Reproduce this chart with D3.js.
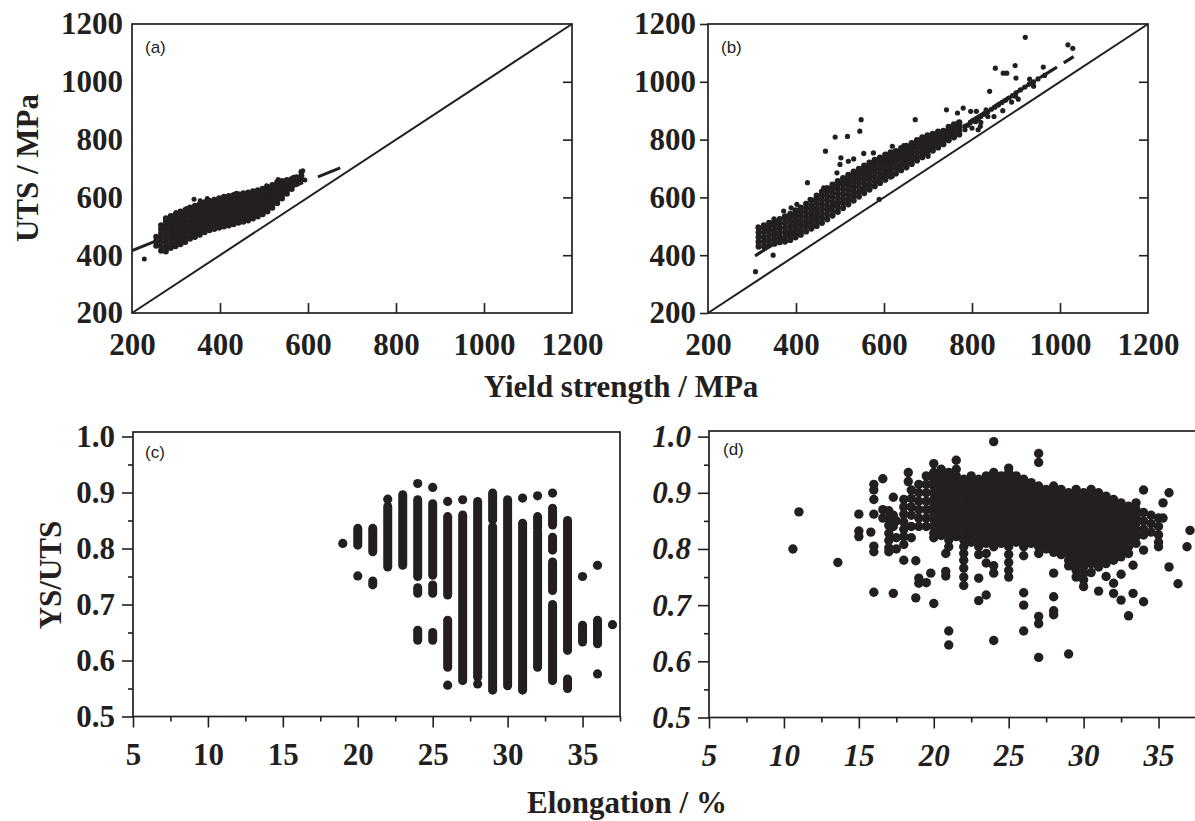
<!DOCTYPE html>
<html>
<head>
<meta charset="UTF-8">
<title>UTS vs yield strength, YS/UTS vs elongation</title>
<style>
  body { margin: 0; background: #fff; }
  svg { display: block; }
  .tick text { font-family: "Liberation Serif", "Times New Roman", serif; font-weight: bold; font-size: 31px; fill: #231f20; }
  .ital .tick text { font-style: italic; }
  .tick line { stroke: #231f20; stroke-width: 1.6; }
  .title { font-family: "Liberation Serif", "Times New Roman", serif; font-weight: bold; font-size: 31px; fill: #231f20; }
  .plabel { font-family: "Liberation Sans", Arial, sans-serif; font-size: 17px; fill: #231f20; }
</style>
<script src="https://cdn.jsdelivr.net/npm/d3@7"></script>
</head>
<body>
<script>
const ink = "#231f20";

// ---- (a) UTS vs YS, columns of points [ys, [uts...]] ----
const aCols = [
  [255, [433, 448, 464]],
  [266, [415, 430, 446, 461, 477, 491, 504]],
  [277, [413, 428, 444, 459, 473, 489, 503, 517, 528]],
  [288, [425, 439, 455, 469, 484, 498, 512, 526, 536]],
  [299, [431, 446, 460, 475, 489, 503, 517, 531, 542]],
  [310, [438, 452, 467, 481, 495, 510, 524, 538, 551]],
  [321, [446, 461, 475, 489, 503, 517, 531, 545, 556]],
  [332, [457, 471, 485, 499, 513, 527, 541, 554, 565]],
  [343, [463, 477, 491, 505, 519, 533, 547, 560, 571]],
  [354, [471, 485, 499, 513, 527, 541, 554, 566, 577]],
  [365, [479, 493, 507, 521, 535, 549, 562, 574, 583]],
  [376, [486, 500, 514, 528, 542, 555, 567, 579, 588]],
  [387, [491, 505, 519, 533, 547, 560, 572, 583, 592]],
  [398, [495, 509, 523, 537, 550, 563, 575, 587, 597]],
  [409, [499, 513, 527, 541, 554, 567, 579, 591, 602]],
  [420, [503, 517, 531, 545, 558, 571, 583, 595, 605]],
  [431, [507, 521, 535, 549, 562, 575, 587, 598, 608]],
  [442, [512, 526, 540, 553, 566, 579, 591, 602, 611]],
  [453, [516, 530, 544, 557, 570, 583, 595, 605, 614]],
  [464, [520, 534, 548, 561, 574, 587, 598, 608, 617]],
  [475, [527, 541, 554, 567, 580, 592, 603, 613, 621]],
  [486, [534, 547, 560, 573, 586, 598, 608, 617, 625]],
  [497, [542, 555, 568, 581, 593, 604, 614, 623, 630]],
  [508, [551, 564, 577, 590, 602, 613, 622, 630, 636]],
  [519, [564, 577, 590, 602, 613, 623, 632, 643]],
  [530, [580, 593, 605, 616, 627, 637, 646, 652]],
  [541, [596, 608, 619, 630, 640, 649, 657]],
  [552, [613, 624, 635, 645, 654, 660]],
  [563, [629, 640, 650, 658, 664]],
  [574, [646, 656, 665, 670]],
  [585, [661, 675, 688]]
];
const aExtra = [
  [228, 387], [315, 445], [341, 594], [371, 596], [324, 562], [437, 614],
  [506, 640], [532, 662], [567, 670], [593, 660], [588, 692], [300, 548], [355, 588]
];
const aFit = [[200, 416], [690, 712]];

// ---- (b) UTS vs YS ----
const bCols = [
  [315, [430, 446, 462, 478, 494]],
  [327, [431, 447, 463, 479, 495, 503]],
  [339, [436, 452, 468, 484, 500, 512]],
  [351, [440, 456, 472, 488, 504, 519]],
  [363, [445, 461, 477, 493, 509, 525]],
  [375, [447, 463, 479, 495, 511, 527, 534]],
  [387, [453, 469, 485, 501, 517, 533, 543]],
  [399, [462, 478, 494, 510, 526, 542, 555]],
  [411, [471, 487, 503, 519, 535, 551, 565]],
  [423, [482, 498, 514, 530, 546, 562, 578]],
  [435, [492, 508, 524, 540, 556, 572, 590]],
  [447, [501, 517, 533, 549, 565, 581, 597, 606]],
  [459, [512, 528, 544, 560, 576, 592, 608, 620]],
  [471, [524, 540, 556, 572, 588, 604, 620, 632]],
  [483, [537, 553, 569, 585, 601, 617, 633, 644]],
  [495, [550, 566, 582, 598, 614, 630, 645, 656]],
  [507, [563, 579, 595, 611, 627, 643, 656, 667]],
  [519, [576, 592, 608, 624, 640, 655, 668, 678]],
  [531, [589, 605, 621, 637, 652, 666, 679, 689]],
  [543, [603, 619, 635, 650, 664, 677, 690, 699]],
  [555, [615, 631, 647, 662, 676, 689, 700, 710]],
  [567, [627, 643, 659, 674, 688, 700, 711, 720]],
  [579, [639, 655, 671, 686, 699, 711, 721, 730]],
  [591, [650, 666, 682, 697, 710, 721, 731, 738]],
  [603, [661, 677, 693, 707, 720, 731, 741, 748]],
  [615, [672, 688, 703, 717, 730, 741, 750, 756]],
  [627, [683, 699, 714, 728, 740, 751, 760]],
  [639, [694, 710, 725, 738, 750, 761, 771]],
  [651, [704, 720, 735, 748, 760, 770, 778]],
  [663, [716, 731, 745, 758, 770, 780, 788]],
  [675, [728, 742, 756, 769, 780, 790, 798]],
  [687, [739, 753, 767, 780, 791, 800, 808]],
  [699, [750, 764, 777, 789, 800, 809, 815]],
  [711, [762, 776, 789, 800, 810, 820]],
  [723, [773, 787, 799, 810, 820, 828]],
  [735, [784, 797, 809, 820, 830]],
  [747, [798, 810, 822, 834, 844]],
  [759, [808, 820, 832, 843, 853]],
  [771, [818, 830, 842, 852, 860]]
];
const bExtra = [
  [308, 343], [314, 498], [331, 490], [348, 400], [350, 526], [372, 553], [389, 564], [402, 576],
  [426, 651], [432, 593], [463, 633], [467, 760], [489, 809], [517, 811], [545, 829], [548, 869],
  [500, 714], [502, 737], [519, 725], [531, 733], [554, 752], [576, 754], [519, 679], [493, 685],
  [506, 645], [619, 777], [645, 779], [671, 869], [690, 786], [706, 777], [742, 903], [780, 909],
  [797, 898], [810, 898], [767, 892], [768, 857], [840, 967], [853, 1047], [871, 1030], [879, 1030],
  [898, 1056], [900, 1013], [899, 950], [921, 1154], [931, 1009], [962, 1051], [1018, 1128], [1029, 1116],
  [836, 880], [832, 903], [814, 834], [784, 834], [819, 846], [589, 593], [619, 674], [700, 742],
  [784, 846], [790, 850], [796, 858], [802, 866], [808, 862], [814, 872], [820, 880], [828, 888],
  [836, 896], [844, 905], [852, 912], [860, 920], [868, 928], [876, 936], [884, 944], [892, 952],
  [900, 962], [910, 972], [920, 982], [930, 992], [940, 1000], [950, 1010], [965, 1022], [800, 840],
  [820, 860], [850, 880], [870, 900], [890, 930], [905, 940], [940, 985]
];
const bFit = [[307, 398], [1031, 1087]];
const diag = [[200, 200], [1200, 1200]];

// ---- (c) YS/UTS vs elongation: stacked columns [el, lo, hi] and single dots ----
const cRanges = [
  [20, 0.806, 0.836], [21, 0.794, 0.836], [21, 0.735, 0.742], [22, 0.767, 0.875], [23, 0.77, 0.896],
  [24, 0.75, 0.887], [24, 0.72, 0.73], [24, 0.636, 0.654], [25, 0.752, 0.88], [25, 0.72, 0.735],
  [25, 0.636, 0.65], [26, 0.717, 0.857], [26, 0.588, 0.672], [27, 0.564, 0.86], [28, 0.57, 0.884],
  [29, 0.851, 0.899], [29, 0.547, 0.839], [30, 0.555, 0.887], [31, 0.547, 0.845], [32, 0.836, 0.857],
  [32, 0.588, 0.83], [33, 0.842, 0.872], [33, 0.797, 0.82], [33, 0.725, 0.776], [33, 0.564, 0.70],
  [34, 0.618, 0.85], [34, 0.55, 0.567], [35, 0.633, 0.663], [36, 0.63, 0.672]
];
const cSingles = [
  [19, 0.809], [20, 0.751], [22, 0.888], [24, 0.916], [25, 0.909], [26, 0.884], [26, 0.556],
  [27, 0.887], [28, 0.558], [31, 0.89], [32, 0.894], [33, 0.899], [35, 0.75], [36, 0.77],
  [36, 0.576], [37, 0.664]
];

// ---- (d) YS/UTS vs elongation ----
const dCols = [
  [10.6, [0.80]], [11.0, [0.866]], [13.6, [0.776]],
  [15, [0.862, 0.832, 0.822]],
  [15.8, [0.830]],
  [16, [0.915, 0.905, 0.888, 0.862, 0.805, 0.795, 0.723]],
  [16.6, [0.925, 0.870, 0.855]],
  [17, [0.868, 0.855, 0.842, 0.828, 0.815, 0.802, 0.795]],
  [17.3, [0.892, 0.86, 0.84, 0.721]],
  [17.5, [0.85, 0.82, 0.80]],
  [18, [0.888, 0.875, 0.862, 0.848, 0.835, 0.822, 0.808, 0.78]],
  [18.3, [0.936, 0.92]],
  [18.5, [0.905, 0.89, 0.875, 0.86, 0.84, 0.82]],
  [18.8, [0.779, 0.713]],
  [19, [0.915, 0.9, 0.885, 0.87, 0.855, 0.84, 0.748, 0.739]],
  [19.5, [0.93, 0.915, 0.9, 0.885, 0.87, 0.855, 0.84, 0.74]],
  [19.8, [0.757]],
  [20, [0.952, 0.936, 0.924, 0.912, 0.900, 0.888, 0.876, 0.864, 0.852, 0.840, 0.828, 0.820, 0.703]],
  [20.5, [0.942, 0.930, 0.918, 0.906, 0.894, 0.882, 0.870, 0.858, 0.846, 0.834, 0.824]],
  [20.8, [0.792, 0.76, 0.752]],
  [21, [0.936, 0.924, 0.912, 0.900, 0.888, 0.876, 0.864, 0.852, 0.840, 0.828, 0.816, 0.804, 0.654, 0.629]],
  [21.5, [0.958, 0.942, 0.930, 0.918, 0.906, 0.894, 0.882, 0.870, 0.858, 0.846, 0.834, 0.822]],
  [22, [0.924, 0.912, 0.900, 0.888, 0.876, 0.864, 0.852, 0.840, 0.828, 0.816, 0.804, 0.792, 0.780, 0.766, 0.750, 0.735]],
  [22.5, [0.930, 0.918, 0.906, 0.894, 0.882, 0.870, 0.858, 0.846, 0.834, 0.822, 0.812]],
  [23, [0.924, 0.912, 0.900, 0.888, 0.876, 0.864, 0.852, 0.840, 0.828, 0.816, 0.804, 0.790, 0.748, 0.708]],
  [23.5, [0.930, 0.918, 0.906, 0.894, 0.882, 0.870, 0.858, 0.846, 0.834, 0.822, 0.810, 0.792, 0.775, 0.718]],
  [24, [0.991, 0.936, 0.924, 0.912, 0.900, 0.888, 0.876, 0.864, 0.852, 0.840, 0.828, 0.816, 0.804, 0.770, 0.757, 0.637]],
  [24.5, [0.930, 0.918, 0.906, 0.894, 0.882, 0.870, 0.858, 0.846, 0.834, 0.822, 0.810]],
  [25, [0.944, 0.936, 0.924, 0.912, 0.900, 0.888, 0.876, 0.864, 0.852, 0.840, 0.828, 0.816, 0.804, 0.790, 0.776, 0.762, 0.750]],
  [25.5, [0.930, 0.918, 0.906, 0.894, 0.882, 0.870, 0.858, 0.846, 0.834, 0.822, 0.812]],
  [26, [0.924, 0.912, 0.900, 0.888, 0.876, 0.864, 0.852, 0.840, 0.828, 0.816, 0.804, 0.788, 0.722, 0.700, 0.654]],
  [26.5, [0.918, 0.906, 0.894, 0.882, 0.870, 0.858, 0.846, 0.834, 0.822, 0.810]],
  [27, [0.970, 0.954, 0.912, 0.900, 0.888, 0.876, 0.864, 0.852, 0.840, 0.828, 0.816, 0.804, 0.792, 0.680, 0.667, 0.607]],
  [27.5, [0.906, 0.894, 0.882, 0.870, 0.858, 0.846, 0.834, 0.822, 0.810, 0.800]],
  [28, [0.912, 0.900, 0.888, 0.876, 0.864, 0.852, 0.840, 0.828, 0.816, 0.804, 0.794, 0.757, 0.715, 0.690, 0.683]],
  [28.5, [0.906, 0.894, 0.882, 0.870, 0.858, 0.846, 0.834, 0.822, 0.810, 0.798, 0.790]],
  [29, [0.900, 0.888, 0.876, 0.864, 0.852, 0.840, 0.828, 0.816, 0.804, 0.792, 0.780, 0.770, 0.613]],
  [29.5, [0.906, 0.894, 0.882, 0.870, 0.858, 0.846, 0.834, 0.822, 0.810, 0.798, 0.786, 0.774, 0.762, 0.750]],
  [30, [0.900, 0.888, 0.876, 0.864, 0.852, 0.840, 0.828, 0.816, 0.804, 0.792, 0.780, 0.768, 0.756, 0.745, 0.733]],
  [30.5, [0.906, 0.894, 0.882, 0.870, 0.858, 0.846, 0.834, 0.822, 0.810, 0.798, 0.786, 0.774, 0.758]],
  [31, [0.900, 0.888, 0.876, 0.864, 0.852, 0.840, 0.828, 0.816, 0.804, 0.792, 0.780, 0.768, 0.725]],
  [31.5, [0.894, 0.882, 0.870, 0.858, 0.846, 0.834, 0.822, 0.810, 0.798, 0.786, 0.774, 0.751]],
  [32, [0.888, 0.876, 0.864, 0.852, 0.840, 0.828, 0.816, 0.804, 0.792, 0.780, 0.739, 0.721]],
  [32.5, [0.882, 0.870, 0.858, 0.846, 0.834, 0.822, 0.810, 0.798, 0.786, 0.755, 0.709]],
  [33, [0.876, 0.864, 0.852, 0.840, 0.828, 0.816, 0.804, 0.792, 0.681]],
  [33.3, [0.771, 0.721]],
  [33.5, [0.882, 0.870, 0.858, 0.846, 0.834, 0.822, 0.810]],
  [34, [0.905, 0.865, 0.85, 0.835, 0.825, 0.798, 0.706]],
  [34.5, [0.86, 0.845, 0.83]],
  [35, [0.855, 0.84, 0.825, 0.812, 0.804]],
  [35.3, [0.882, 0.855]],
  [35.7, [0.90, 0.768]],
  [36.3, [0.738]],
  [36.9, [0.804]],
  [37.1, [0.833]]
];

// ticks
const mpaTicks = [200, 400, 600, 800, 1000, 1200];
const mpaInner = [400, 600, 800, 1000];
const ratioTicks = [0.5, 0.6, 0.7, 0.8, 0.9, 1.0];
const ratioMinor = [0.55, 0.65, 0.75, 0.85, 0.95];
const elTicks = [5, 10, 15, 20, 25, 30, 35];
const elMinor = [7.5, 12.5, 17.5, 22.5, 27.5, 32.5, 37.5];

const flat = cols => cols.flatMap(([x, ys]) => ys.map(y => [x, y]));

const svg = d3.select("body").append("svg")
  .attr("width", 1195).attr("height", 821);

function frame(x, y) {
  const [x0, x1] = x.range(), [y0, y1] = y.range();
  svg.append("rect")
    .attr("x", x0).attr("y", y1).attr("width", x1 - x0).attr("height", y0 - y1)
    .attr("fill", "none").attr("stroke", ink).attr("stroke-width", 1.7);
}

function dots(pts, x, y, r) {
  svg.append("g").selectAll("circle").data(pts).join("circle")
    .attr("cx", d => x(d[0])).attr("cy", d => y(d[1])).attr("r", r).attr("fill", ink);
}

function line(pts, x, y, w, dash) {
  svg.append("path")
    .attr("d", d3.line().x(d => x(d[0])).y(d => y(d[1]))(pts))
    .attr("fill", "none").attr("stroke", ink).attr("stroke-width", w)
    .attr("stroke-dasharray", dash || null);
}

function label(txt, x, y, dx, dy) {
  svg.append("text").attr("class", "plabel")
    .attr("x", x.range()[0] + dx).attr("y", y.range()[1] + dy).text(txt);
}

// ---------- top panels ----------
function mpaPanel(x, y, leftTick, name) {
  const bottom = y.range()[0], left = x.range()[0], right = x.range()[1];
  const fmt = d3.format("d");
  svg.append("g").attr("transform", `translate(0,${bottom})`)
    .call(d3.axisBottom(x).tickValues(mpaTicks).tickFormat(fmt).tickSizeInner(0).tickSizeOuter(0).tickPadding(20))
    .call(g => g.select(".domain").remove());
  svg.append("g").attr("transform", `translate(0,${bottom})`)
    .call(d3.axisBottom(x).tickValues(mpaInner).tickSizeInner(-10).tickSizeOuter(0).tickFormat(""))
    .call(g => g.select(".domain").remove());
  svg.append("g").attr("transform", `translate(${left},0)`)
    .call(d3.axisLeft(y).tickValues(mpaTicks).tickFormat(fmt).tickSizeInner(leftTick).tickSizeOuter(0).tickPadding(leftTick ? 4 : 9))
    .call(g => g.select(".domain").remove());
  svg.append("g").attr("transform", `translate(${right},0)`)
    .call(d3.axisRight(y).tickValues(mpaInner).tickSizeInner(-9).tickSizeOuter(0).tickFormat(""))
    .call(g => g.select(".domain").remove());
  frame(x, y);
  label(name, x, y, 13, 29);
}

const xa = d3.scaleLinear().domain([200, 1200]).range([132, 572]);
const ya = d3.scaleLinear().domain([200, 1200]).range([313, 24]);
const xb = d3.scaleLinear().domain([200, 1200]).range([708, 1148]);
const yb = ya;

mpaPanel(xa, ya, 0, "(a)");
line(diag, xa, ya, 2);
dots(flat(aCols), xa, ya, 3);
dots(aExtra, xa, ya, 2.5);
line(aFit, xa, ya, 3, "24,16");

mpaPanel(xb, yb, 8, "(b)");
line(diag, xb, yb, 2);
dots(flat(bCols), xb, yb, 3.1);
dots(bExtra, xb, yb, 2.6);
line(bFit, xb, yb, 3.2, "20,8");

// ---------- bottom panels ----------
function ratioPanel(x, y, name, italic, ldx, ldy) {
  const bottom = y.range()[0], left = x.range()[0];
  const cls = italic ? "ital" : null;
  svg.append("g").attr("class", cls).attr("transform", `translate(0,${bottom})`)
    .call(d3.axisBottom(x).tickValues(elTicks).tickSizeInner(11).tickSizeOuter(0).tickPadding(15))
    .call(g => g.select(".domain").remove());
  svg.append("g").attr("transform", `translate(0,${bottom})`)
    .call(d3.axisBottom(x).tickValues(elMinor).tickSizeInner(5).tickSizeOuter(0).tickFormat(""))
    .call(g => g.select(".domain").remove());
  svg.append("g").attr("class", cls).attr("transform", `translate(${left},0)`)
    .call(d3.axisLeft(y).tickValues(ratioTicks).tickFormat(d3.format(".1f")).tickSizeInner(11).tickSizeOuter(0).tickPadding(7))
    .call(g => g.select(".domain").remove());
  svg.append("g").attr("transform", `translate(${left},0)`)
    .call(d3.axisLeft(y).tickValues(ratioMinor).tickSizeInner(5).tickSizeOuter(0).tickFormat(""))
    .call(g => g.select(".domain").remove());
  frame(x, y);
  label(name, x, y, ldx, ldy);
}

const xc = d3.scaleLinear().domain([5, 37.5]).range([133, 620]);
const yc = d3.scaleLinear().domain([0.5, 1.008]).range([716.5, 432]);
const xd = d3.scaleLinear().domain([5, 37.5]).range([709, 1196]);
const yd = d3.scaleLinear().domain([0.5, 1.01]).range([717.5, 431]);

ratioPanel(xc, yc, "(c)", false, 12, 26);
svg.append("g").selectAll("line").data(cRanges).join("line")
  .attr("x1", d => xc(d[0])).attr("x2", d => xc(d[0]))
  .attr("y1", d => yc(d[1])).attr("y2", d => yc(d[2]))
  .attr("stroke", ink).attr("stroke-width", 9).attr("stroke-linecap", "round");
dots(cSingles, xc, yc, 4.6);

ratioPanel(xd, yd, "(d)", true, 14, 24);
dots(flat(dCols), xd, yd, 4.7);

// ---------- axis titles ----------
svg.append("text").attr("class", "title").attr("text-anchor", "middle")
  .attr("transform", "translate(38,168) rotate(-90)").text("UTS / MPa");
svg.append("text").attr("class", "title").attr("text-anchor", "middle")
  .attr("x", 621).attr("y", 397).text("Yield strength / MPa");
svg.append("text").attr("class", "title").attr("text-anchor", "middle")
  .attr("transform", "translate(61,575) rotate(-90)").text("YS/UTS");
svg.append("text").attr("class", "title").attr("text-anchor", "middle")
  .attr("x", 627).attr("y", 813).text("Elongation / %");
</script>
</body>
</html>
